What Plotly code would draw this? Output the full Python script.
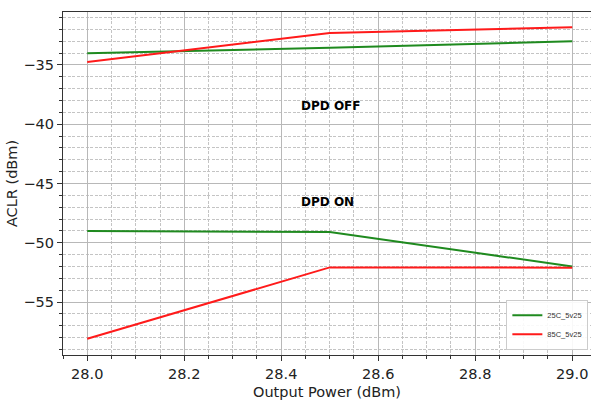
import plotly.graph_objects as go

# Output power sweep (dBm)
power = [28.0, 28.5, 29.0]

# ACLR (dBm) with DPD disabled
off_25c = [-34.0, -33.55, -33.0]
off_85c = [-34.75, -32.3, -31.82]

# ACLR (dBm) with DPD enabled
on_25c = [-49.0, -49.1, -52.0]
on_85c = [-58.1, -52.08, -52.1]

series_names = ["25C_5v25", "85C_5v25"]
GREEN = "#1f8a1f"
RED = "#ff1a1a"

fig = go.Figure()

# DPD OFF curves (legend entries come from these)
fig.add_trace(go.Scatter(x=power, y=off_25c, mode="lines", name=series_names[0],
                         line=dict(color=GREEN, width=2), legendgroup="25"))
fig.add_trace(go.Scatter(x=power, y=off_85c, mode="lines", name=series_names[1],
                         line=dict(color=RED, width=2), legendgroup="85"))
# DPD ON curves
fig.add_trace(go.Scatter(x=power, y=on_25c, mode="lines", name=series_names[0],
                         line=dict(color=GREEN, width=2), legendgroup="25", showlegend=False))
fig.add_trace(go.Scatter(x=power, y=on_85c, mode="lines", name=series_names[1],
                         line=dict(color=RED, width=2), legendgroup="85", showlegend=False))

fig.add_annotation(x=28.437, y=-38.5, text="<b>DPD OFF</b>", showarrow=False,
                   xanchor="left", yanchor="middle",
                   font=dict(family="DejaVu Sans", size=12, color="black"))
fig.add_annotation(x=28.437, y=-46.6, text="<b>DPD ON</b>", showarrow=False,
                   xanchor="left", yanchor="middle",
                   font=dict(family="DejaVu Sans", size=12, color="black"))

axis_font = dict(family="DejaVu Sans", size=14.5, color="#222222")
minor_dash = "3px,1.5px"

fig.update_layout(
    width=591, height=401,
    margin=dict(l=63, r=0, t=12, b=46),
    paper_bgcolor="white", plot_bgcolor="white",
    font=axis_font,
    showlegend=True,
    legend=dict(x=0.995, y=0.015, xanchor="right", yanchor="bottom",
                bgcolor="rgba(255,255,255,0.9)", bordercolor="#cccccc", borderwidth=1,
                font=dict(family="Liberation Sans", size=7.5, color="#333333"),
                itemwidth=30, tracegroupgap=0),
)

fig.update_xaxes(
    range=[27.95, 29.0387],
    tickvals=[28.0, 28.2, 28.4, 28.6, 28.8, 29.0],
    ticktext=["28.0", "28.2", "28.4", "28.6", "28.8", "29.0"],
    ticks="outside", ticklen=5, tickcolor="#333333", tickwidth=1,
    showline=True, linecolor="#333333", linewidth=1.2, mirror=True,
    showgrid=True, gridcolor="#b8b8b8", gridwidth=1,
    zeroline=False,
    minor=dict(dtick=0.05, tick0=28.0, ticks="outside", ticklen=3, tickcolor="#333333",
               showgrid=True, gridcolor="#c4c4c4", griddash=minor_dash, gridwidth=1),
    title=dict(text="Output Power (dBm)", standoff=6, font=axis_font),
    tickfont=axis_font,
)

fig.update_yaxes(
    range=[-59.47, -30.53],
    tickvals=[-55, -50, -45, -40, -35],
    ticks="outside", ticklen=5, tickcolor="#333333", tickwidth=1,
    showline=True, linecolor="#333333", linewidth=1.2, mirror=False,
    showgrid=True, gridcolor="#b8b8b8", gridwidth=1,
    zeroline=False,
    minor=dict(dtick=1, tick0=-35, ticks="outside", ticklen=3, tickcolor="#333333",
               showgrid=True, gridcolor="#c4c4c4", griddash=minor_dash, gridwidth=1),
    title=dict(text="ACLR (dBm)", standoff=2, font=axis_font),
    tickfont=axis_font,
)

fig.write_html("out.html")
